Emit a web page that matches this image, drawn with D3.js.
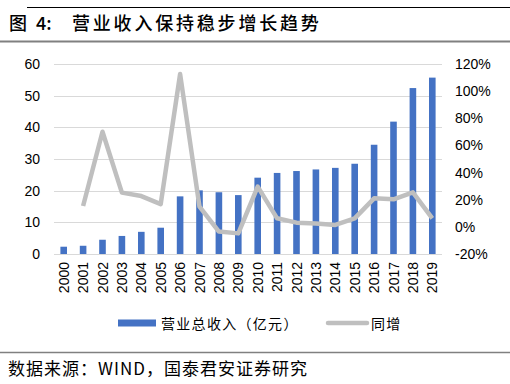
<!DOCTYPE html>
<html>
<head>
<meta charset="utf-8">
<script src="https://cdn.jsdelivr.net/npm/d3@7"></script>
<style>
  body { margin: 0; background: #fff; }
  svg { display: block; }
</style>
</head>
<body>
<svg id="chart" width="510" height="384"></svg>
<script>
// chart data
const years = ["2000","2001","2002","2003","2004","2005","2006","2007","2008","2009",
               "2010","2011","2012","2013","2014","2015","2016","2017","2018","2019"];
const revenue = [2.3, 2.6, 4.5, 5.7, 7.0, 8.3, 18.2, 20.1, 19.5, 18.6,
                 24.1, 25.6, 26.2, 26.7, 27.2, 28.5, 34.5, 41.8, 52.4, 55.7];
const growth = [null, 15.4, 70.1, 25.2, 22.7, 16.8, 112.6, 14.9, -3.5, -4.8,
                29.6, 6.3, 3.1, 2.4, 1.4, 6.3, 21.0, 20.3, 25.4, 6.3];
const leftTicks = [0, 10, 20, 30, 40, 50, 60];
const rightTicks = [-20, 0, 20, 40, 60, 80, 100, 120];

const svg = d3.select("#chart");
const cjk = "'Noto Sans CJK SC', sans-serif";
const latin = "'Liberation Sans', Arial, sans-serif";

// header / footer rules
svg.append("line").attr("x1", 27).attr("x2", 510).attr("y1", 7.5).attr("y2", 7.5)
    .attr("stroke", "#000").attr("stroke-width", 1);
svg.append("line").attr("x1", 0).attr("x2", 510).attr("y1", 41.5).attr("y2", 41.5)
    .attr("stroke", "#808080").attr("stroke-width", 2);
svg.append("line").attr("x1", 0).attr("x2", 510).attr("y1", 352.5).attr("y2", 352.5)
    .attr("stroke", "#808080").attr("stroke-width", 1.5);

// title, in three pieces to keep the wide gaps
const title = svg.append("g")
    .style("font-family", cjk).style("font-size", "18px").style("font-weight", 500)
    .attr("fill", "#000");
title.append("text").attr("x", 9).attr("y", 30).text("图");
title.append("text").attr("x", 36).attr("y", 30).text("4:");
title.append("text").attr("x", 72).attr("y", 30).style("letter-spacing", "2.8px")
    .text("营业收入保持稳步增长趋势");

svg.append("text").attr("x", 8).attr("y", 375)
    .style("font-family", cjk).style("font-size", "17px").style("letter-spacing", "1px")
    .attr("fill", "#000")
    .text("数据来源：WIND，国泰君安证券研究");

// plot area
const plotLeft = 54, plotRight = 442, plotTop = 64, plotBottom = 254;

const x = d3.scaleBand().domain(years).range([plotLeft, plotRight]).paddingInner(0.66).paddingOuter(0.33);
const yL = d3.scaleLinear().domain([0, 60]).range([plotBottom, plotTop]);
const yR = d3.scaleLinear().domain([-20, 120]).range([plotBottom, plotTop]);

// gridlines
svg.append("g").selectAll("line").data(leftTicks).join("line")
    .attr("x1", plotLeft).attr("x2", plotRight)
    .attr("y1", d => Math.round(yL(d)) + 0.5).attr("y2", d => Math.round(yL(d)) + 0.5)
    .attr("stroke", "#d9d9d9").attr("stroke-width", 1);

// bars
svg.append("g").selectAll("rect").data(years).join("rect")
    .attr("x", d => x(d))
    .attr("width", x.bandwidth())
    .attr("y", (d, i) => yL(revenue[i]))
    .attr("height", (d, i) => yL(0) - yL(revenue[i]))
    .attr("fill", "#4472C4");

// growth line
const line = d3.line()
    .defined(d => d[1] != null)
    .x(d => x(d[0]) + x.bandwidth() / 2)
    .y(d => yR(d[1]));
svg.append("path")
    .datum(years.map((y, i) => [y, growth[i]]))
    .attr("d", line)
    .attr("fill", "none")
    .attr("stroke", "#BFBFBF")
    .attr("stroke-width", 4.5)
    .attr("stroke-linejoin", "round");

// left axis
const axisL = d3.axisLeft(yL).tickValues(leftTicks).tickSize(0).tickPadding(14);
const gL = svg.append("g").attr("transform", `translate(${plotLeft},0)`).call(axisL);
gL.select(".domain").remove();
gL.selectAll("text").style("font-family", latin).style("font-size", "14px").attr("fill", "#000");

// right axis
const axisR = d3.axisRight(yR).tickValues(rightTicks).tickSize(0).tickPadding(13)
    .tickFormat(d => d + "%");
const gR = svg.append("g").attr("transform", `translate(${plotRight},0)`).call(axisR);
gR.select(".domain").remove();
gR.selectAll("text").style("font-family", latin).style("font-size", "14px").attr("fill", "#000");

// x axis labels (rotated)
svg.append("g").selectAll("text").data(years).join("text")
    .attr("transform", d => `translate(${x(d) + x.bandwidth() / 2 + 5},${plotBottom + 8}) rotate(-90)`)
    .attr("text-anchor", "end")
    .style("font-family", latin).style("font-size", "14px").attr("fill", "#000")
    .text(d => d);

// legend
const lg = svg.append("g")
    .style("font-family", cjk).style("font-size", "14px").style("letter-spacing", "1.3px");
lg.append("rect").attr("x", 118).attr("y", 319.5).attr("width", 38).attr("height", 7).attr("fill", "#4472C4");
lg.append("text").attr("x", 161).attr("y", 328.5).attr("fill", "#000")
    .text("营业总收入（亿元）");
lg.append("line").attr("x1", 328).attr("x2", 367).attr("y1", 323).attr("y2", 323)
    .attr("stroke", "#BFBFBF").attr("stroke-width", 4.5).attr("stroke-linecap", "round");
lg.append("text").attr("x", 371).attr("y", 328.5).attr("fill", "#000")
    .text("同增");
</script>
</body>
</html>
